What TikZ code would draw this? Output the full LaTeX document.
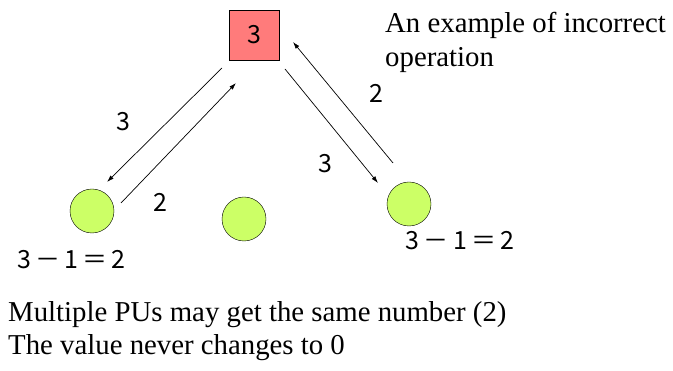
\documentclass[tikz,border=0pt]{standalone}
\usepackage{fontspec}
\setmainfont{Liberation Serif}
\newfontfamily\gothic{Noto Sans CJK JP}
\usetikzlibrary{arrows.meta}
\definecolor{pucolor}{HTML}{CCFF66}
\definecolor{rootcolor}{HTML}{FF7B7B}
\tikzset{
  pu/.style={circle, draw, fill=pucolor, minimum size=44pt, inner sep=0pt},
  root/.style={draw, fill=rootcolor, minimum size=50pt, inner sep=0pt},
  num/.style={font=\gothic\fontsize{25}{28}\selectfont},
  msg/.style={->, line width=0.7pt, >={Latex[length=7pt,width=4.5pt]}},
  note/.style={font=\fontsize{28.8}{34}\selectfont, anchor=base west, inner sep=0pt}
}
\begin{document}
\begin{tikzpicture}[x=1pt,y=-1pt]
\useasboundingbox (0,0) rectangle (673,371);
\node[root, num] (R) at (254,35) {3};
\node[pu] (A) at (92,211) {};
\node[pu] (B) at (244,219) {};
\node[pu] (C) at (409,204) {};

\coordinate (a1) at (222,68);
\coordinate (a2) at (107,182);
\coordinate (b1) at (121,203);
\coordinate (b2) at (236,83);
\coordinate (c1) at (285,69);
\coordinate (c2) at (378,183);
\coordinate (d1) at (393,163);
\coordinate (d2) at (293,42);

\draw[msg] (a1) -- (a2);
\draw[msg] (b1) -- (b2);
\draw[msg] (c1) -- (c2);
\draw[msg] (d1) -- (d2);

\node[num] (la) at (123,122) {3};
\node[num] (lb) at (160,202) {2};
\node[num] (lc) at (325,164) {3};
\node[num] (ld) at (376,93) {2};
\node[num] (ra) at (71.5,260) {3\,－\,1\,＝\,2};
\node[num] (rc) at (460,241) {3\,－\,1\,＝\,2};

\node[note] (note1) at (385,33) {An example of incorrect};
\node[note] (note2) at (385,67) {operation};
\node[note] (res1) at (8,322) {Multiple PUs may get the same number (2)};
\node[note] (res2) at (8,355) {The value never changes to 0};
\end{tikzpicture}
\end{document}
